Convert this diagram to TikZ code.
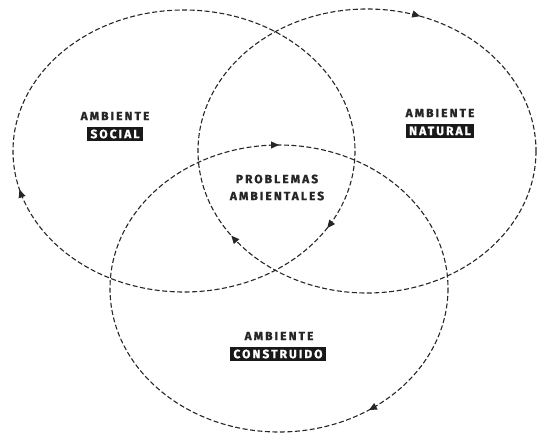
\documentclass[tikz,border=0pt]{standalone}
\usepackage{fontspec}
\newfontfamily\labfont{Fira Sans}[LetterSpace=17,BoldFeatures={FakeBold=1.2}]
\usetikzlibrary{arrows.meta,decorations.markings}
\tikzset{
  ring/.style={draw=black!85, line width=1.1pt, dash pattern=on 5pt off 2.5pt},
  lab/.style={font=\labfont\bfseries\fontsize{12}{14}\selectfont, text=black!85, inner sep=1pt},
  boxlab/.style={font=\labfont\bfseries\fontsize{12}{14}\selectfont, fill=black!90, text=white, inner xsep=3pt, inner ysep=3pt}
}
\begin{document}
\begin{tikzpicture}[x=1pt,y=-1pt]
\useasboundingbox (0,0) rectangle (537,433);
% social
\draw[ring, postaction={decorate}, decoration={markings,
   mark=at position 0.085 with {\arrow{Triangle[length=8pt,width=7pt]}},
   mark=at position 0.46 with {\arrow{Triangle[length=8pt,width=7pt]}}}]
   (184,151) ellipse [x radius=171, y radius=141];
% natural
\draw[ring, postaction={decorate}, decoration={markings,
   mark=at position 0.405 with {\arrow{Triangle[length=8pt,width=7pt]}},
   mark=at position 0.805 with {\arrow{Triangle[length=8pt,width=7pt]}}}]
   (367,151) ellipse [x radius=169, y radius=142];
% construido
\draw[ring, postaction={decorate}, decoration={markings,
   mark=at position 0.155 with {\arrow{Triangle[length=8pt,width=7pt]}},
   mark=at position 0.75 with {\arrow{Triangle[length=8pt,width=7pt]}}}]
   (279,288.5) ellipse [x radius=169, y radius=143.5];

\node[lab] (s1) at (115,116) {AMBIENTE};
\node[boxlab] (s2) at (115,134) {SOCIAL};
\node[lab] (n1) at (440,113) {AMBIENTE};
\node[boxlab] (n2) at (440,131) {NATURAL};
\node[lab] (p1) at (277,179) {PROBLEMAS};
\node[lab] (p2) at (277,196) {AMBIENTALES};
\node[lab] (c1) at (279,336) {AMBIENTE};
\node[boxlab] (c2) at (278,354) {CONSTRUIDO};
\end{tikzpicture}
\end{document}
